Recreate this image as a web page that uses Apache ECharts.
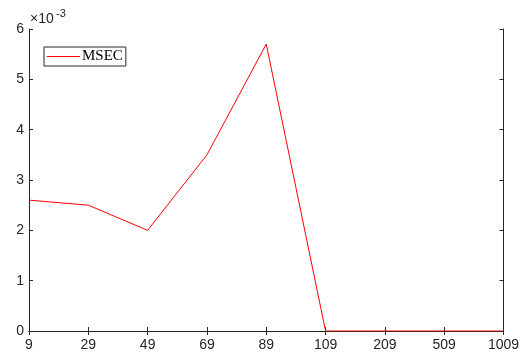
<!DOCTYPE html>
<html>
<head>
<meta charset="utf-8">
<script src="https://cdn.jsdelivr.net/npm/echarts@6/dist/echarts.min.js"></script>
<style>
  html, body { margin: 0; padding: 0; background: #fff; }
  #chart { width: 520px; height: 358px; }
</style>
</head>
<body>
<div id="chart"></div>
<script>
// Sample sizes on the x axis and the MSEC error for each
const categories = ['9', '29', '49', '69', '89', '109', '209', '509', '1009'];
const msec = [0.0026, 0.0025, 0.0020, 0.0035, 0.0057, 0, 0, 0, 0];
const yTickLabels = ['0', '1', '2', '3', '4', '5', '6'];
const scaleExponent = -3;

const axisColor = '#262626';
const font = 'Liberation Sans, Arial, Helvetica, sans-serif';

const chart = echarts.init(document.getElementById('chart'), null, { renderer: 'canvas' });

const tickStyle = { show: true, inside: true, length: 4, lineStyle: { color: axisColor, width: 1 } };

chart.setOption({
  animation: false,
  backgroundColor: '#fff',
  grid: { left: 29, right: 16.5, top: 29, bottom: 27, containLabel: false, outerBoundsMode: 'none' },
  xAxis: [
    {
      type: 'category',
      data: categories,
      boundaryGap: false,
      axisLine: { show: true, lineStyle: { color: axisColor, width: 1 } },
      axisTick: Object.assign({ alignWithLabel: true }, tickStyle),
      axisLabel: { color: axisColor, fontFamily: font, fontSize: 14, margin: 7, hideOverlap: false },
      splitLine: { show: false }
    },
    {
      type: 'category',
      position: 'top',
      data: categories,
      boundaryGap: false,
      axisLine: { show: true, lineStyle: { color: axisColor, width: 1 } },
      axisTick: tickStyle,
      axisLabel: { show: false },
      splitLine: { show: false }
    }
  ],
  yAxis: [
    {
      type: 'value',
      min: 0,
      max: 0.006,
      interval: 0.001,
      axisLine: { show: true, lineStyle: { color: axisColor, width: 1 } },
      axisTick: tickStyle,
      axisLabel: {
        color: axisColor, fontFamily: font, fontSize: 14, margin: 5,
        formatter: v => yTickLabels[Math.round(v * Math.pow(10, -scaleExponent))]
      },
      splitLine: { show: false }
    },
    {
      type: 'value',
      position: 'right',
      min: 0,
      max: 0.006,
      interval: 0.001,
      axisLine: { show: true, lineStyle: { color: axisColor, width: 1 } },
      axisTick: tickStyle,
      axisLabel: { show: false },
      splitLine: { show: false }
    }
  ],
  legend: {
    left: 44,
    top: 47,
    orient: 'vertical',
    backgroundColor: '#fff',
    borderColor: axisColor,
    borderWidth: 1,
    borderRadius: 0,
    padding: [2, 3, 2, 3],
    itemWidth: 33,
    itemHeight: 16,
    itemGap: 2,
    textStyle: { fontFamily: 'Liberation Serif, Times New Roman, serif', fontSize: 15, color: '#000', padding: [0, 0, 0, -3] },
    data: [{ name: 'MSEC', icon: 'path://M0,0 L33,0 L33,1 L0,1 Z' }]
  },
  graphic: [
    {
      // axis multiplier: ×10^-3
      type: 'text',
      left: 30,
      top: 12,
      style: { text: '×10', font: '14px ' + font, fill: axisColor }
    },
    {
      type: 'text',
      left: 56,
      top: 8,
      style: { text: String(scaleExponent), font: '11px ' + font, fill: axisColor }
    }
  ],
  series: [
    {
      name: 'MSEC',
      type: 'line',
      data: msec,
      symbol: 'none',
      color: '#ff0000',
      lineStyle: { color: '#ff0000', width: 1 },
      itemStyle: { color: '#ff0000' }
    }
  ]
});
</script>
</body>
</html>
